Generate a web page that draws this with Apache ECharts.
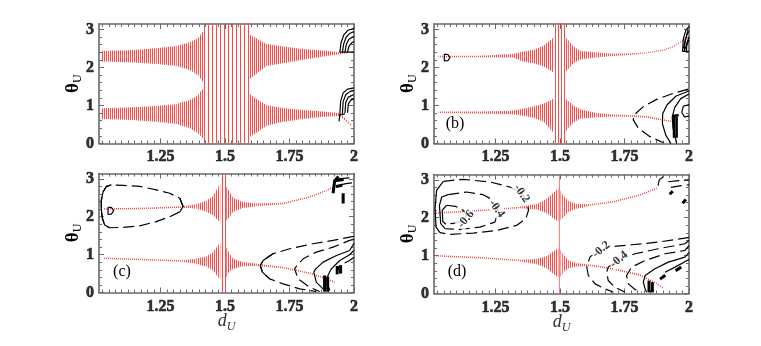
<!DOCTYPE html>
<html>
<head>
<meta charset="utf-8">
<script src="https://cdn.jsdelivr.net/npm/echarts@6/dist/echarts.min.js"></script>
<style>html,body{margin:0;background:#fff}#chart{width:761px;height:346px}</style>
</head>
<body>
<div id="chart"></div>
<script>
// tick labels
const xLabels = [1.25, 1.5, 1.75, 2];
const yLabels = [0, 1, 2, 3];
const PI = 3.1416;

// red bands: [d_U, low, high]
// (a)
const aUpL = [[1.021,2.153,2.434],[1.144,2.127,2.46],[1.234,2.092,2.504],[1.312,2.035,2.566],[1.363,1.934,2.66],[1.396,1.803,2.77],[1.409,1.671,2.90],[1.418,1.60,2.95]];
const aMid = [[1.418,0,PI],[1.596,0,PI]];
const aUpR = [[1.596,1.70,2.86],[1.609,1.76,2.81],[1.660,2.035,2.62],[1.725,2.11,2.55],[1.803,2.20,2.487],[1.880,2.285,2.443],[1.945,2.346,2.40],[1.977,2.37,2.39]];
const aLoL = [[1.021,0.645,0.925],[1.144,0.618,0.952],[1.234,0.574,0.987],[1.312,0.513,1.039],[1.363,0.399,1.145],[1.396,0.268,1.276],[1.409,0.18,1.408],[1.418,0.12,1.45]];
const aLoR = [[1.596,0.18,1.30],[1.609,0.224,1.232],[1.660,0.46,1.013],[1.725,0.574,0.925],[1.803,0.645,0.882],[1.880,0.706,0.838],[1.945,0.72,0.794],[1.99,0.46,0.50]];
// (b)
const bUpL = [[1.029,2.265,2.305],[1.190,2.27,2.31],[1.319,2.26,2.35],[1.358,2.15,2.42],[1.397,2.11,2.46],[1.436,2.03,2.57],[1.468,1.90,2.75],[1.477,1.85,2.80]];
const bMid = [[1.477,0,PI],[1.521,0,PI]];
const bUpR = [[1.521,1.88,2.78],[1.532,1.95,2.72],[1.552,2.11,2.55],[1.578,2.20,2.44],[1.642,2.27,2.39],[1.707,2.30,2.36],[1.784,2.33,2.37],[1.836,2.37,2.40],[1.901,2.44,2.47],[1.939,2.53,2.56],[1.984,2.73,2.76]];
const bLoL = [[1.029,0.80,0.84],[1.190,0.79,0.84],[1.319,0.77,0.86],[1.358,0.73,0.92],[1.397,0.68,0.97],[1.436,0.58,1.05],[1.468,0.33,1.15],[1.477,0.28,1.20]];
const bLoR = [[1.521,0.30,1.18],[1.532,0.40,1.12],[1.552,0.55,1.00],[1.578,0.65,0.90],[1.642,0.69,0.80],[1.707,0.71,0.76],[1.784,0.705,0.745],[1.836,0.68,0.72],[1.901,0.60,0.64],[1.939,0.55,0.59]];
// (c)
const cUpL = [[1.028,2.185,2.225],[1.208,2.205,2.245],[1.338,2.24,2.28],[1.389,2.22,2.33],[1.428,2.13,2.42],[1.454,2.04,2.55],[1.473,1.90,2.78],[1.482,1.85,2.85]];
const cMid = [[1.482,0,PI],[1.505,0,PI]];
const cUpR = [[1.505,1.90,2.80],[1.516,1.98,2.68],[1.531,2.13,2.50],[1.570,2.23,2.39],[1.622,2.28,2.35],[1.725,2.33,2.37],[1.828,2.50,2.54],[1.893,2.67,2.71],[1.925,2.78,2.82]];
const cLoL = [[1.028,0.885,0.925],[1.208,0.845,0.885],[1.338,0.81,0.85],[1.389,0.76,0.89],[1.428,0.68,0.96],[1.454,0.58,1.06],[1.473,0.40,1.25],[1.482,0.35,1.30]];
const cLoR = [[1.505,0.40,1.20],[1.516,0.55,1.05],[1.531,0.62,0.90],[1.570,0.69,0.80],[1.622,0.70,0.76],[1.725,0.64,0.68],[1.828,0.49,0.53],[1.893,0.34,0.38],[1.925,0.26,0.30]];
// (d)
const dUpL = [[1.016,2.10,2.14],[1.190,2.17,2.21],[1.345,2.25,2.29],[1.410,2.22,2.36],[1.449,2.12,2.50],[1.481,1.95,2.70],[1.494,1.90,2.78]];
const dMid = [[1.496,0,PI],[1.4995,0,PI]];
const dUpR = [[1.502,1.95,2.72],[1.511,2.00,2.60],[1.532,2.15,2.45],[1.565,2.24,2.36],[1.616,2.315,2.355],[1.707,2.40,2.44],[1.810,2.58,2.62],[1.875,2.76,2.80]];
const dLoL = [[1.016,0.975,1.015],[1.190,0.925,0.965],[1.345,0.85,0.89],[1.410,0.77,0.91],[1.449,0.66,0.99],[1.481,0.48,1.15],[1.494,0.42,1.20]];
const dLoR = [[1.502,0.45,1.15],[1.511,0.55,1.05],[1.532,0.66,0.88],[1.565,0.71,0.80],[1.616,0.725,0.765],[1.707,0.63,0.67],[1.810,0.465,0.505],[1.875,0.245,0.285],[1.901,0.12,0.16]];

// black contours: [d_U, theta_U]
const aSolid = [
  [[1.945,2.40],[1.950,2.65],[1.960,2.85],[1.975,2.97],[2.0,3.03]],
  [[1.955,2.40],[1.960,2.62],[1.970,2.80],[1.985,2.90],[2.0,2.94]],
  [[1.965,2.40],[1.970,2.60],[1.980,2.74],[2.0,2.82]],
  [[1.975,2.40],[1.980,2.55],[1.990,2.64],[2.0,2.68]],
  [[1.945,2.40],[2.0,2.40]],
  [[1.945,0.75],[1.948,1.10],[1.958,1.33],[1.975,1.43],[2.0,1.46]],
  [[1.955,0.78],[1.958,1.10],[1.968,1.28],[1.985,1.37],[2.0,1.39]],
  [[1.965,0.80],[1.968,1.08],[1.978,1.22],[2.0,1.29]],
  [[1.975,0.81],[1.978,1.04],[1.988,1.14],[2.0,1.18]],
  [[1.942,0.58],[1.945,0.75],[1.965,0.78]]
];
const bSolid = [
  [[1.052,2.35],[1.066,2.34],[1.074,2.26],[1.066,2.18],[1.052,2.17],[1.052,2.35]],
  [[1.975,2.42],[1.978,2.75],[1.988,2.98],[2.0,3.08]],
  [[1.982,2.42],[1.985,2.70],[1.993,2.88],[2.0,2.95]],
  [[1.990,2.42],[1.992,2.65],[2.0,2.80]],
  [[1.975,2.42],[2.0,2.42]],
  [[1.978,2.50],[1.996,2.98]],
  [[1.982,2.45],[2.0,2.72]],
  [[2.0,1.38],[1.95,1.25],[1.915,1.02],[1.898,0.78],[1.897,0.52],[1.91,0.22],[1.93,0.0]],
  [[2.0,1.30],[1.968,1.18],[1.945,0.95],[1.935,0.70],[1.938,0.40],[1.948,0.12],[1.952,0.0]],
  [[2.0,1.02],[1.978,0.98],[1.972,0.82],[1.982,0.70],[2.0,0.72]]
];
const bDashed = [
  [[1.997,1.43],[1.939,1.32],[1.875,1.16],[1.823,0.97],[1.787,0.75],[1.784,0.62],[1.804,0.40],[1.849,0.18],[1.901,0.02]]
];
const bBlobs = [
  [[1.942,0.15],[1.942,0.72]],
  [[1.952,0.15],[1.952,0.70]],
  [[1.935,0.72],[1.960,0.74]]
];
const cDashed = [
  [[1.338,2.27],[1.325,2.49],[1.286,2.62],[1.234,2.71],[1.170,2.80],[1.105,2.83],[1.060,2.84],[1.041,2.80],[1.028,2.66],[1.021,2.44],[1.021,2.18],[1.025,1.96],[1.034,1.78],[1.053,1.71],[1.105,1.72],[1.170,1.76],[1.234,1.87],[1.286,2.0],[1.325,2.13],[1.338,2.27]],
  [[2.0,1.48],[1.983,1.46],[1.919,1.375],[1.841,1.287],[1.751,1.154],[1.686,1.022],[1.648,0.846],[1.637,0.713],[1.645,0.537],[1.673,0.361],[1.725,0.228],[1.790,0.096],[1.854,0.026]],
  [[2.0,1.40],[1.983,1.375],[1.919,1.198],[1.854,1.066],[1.803,0.89],[1.779,0.713],[1.770,0.625],[1.783,0.361],[1.828,0.14],[1.867,0.026]],
  [[2.0,0.93],[1.983,0.846],[1.945,0.713],[1.932,0.537]],
  [[1.94,3.0],[1.97,3.02],[2.0,3.03]],
  [[1.95,2.85],[1.975,2.88],[2.0,2.90]]
];
const cSolid = [
  [[1.060,2.84],[1.041,2.80],[1.028,2.66],[1.021,2.44],[1.021,2.18],[1.025,1.96],[1.034,1.78],[1.053,1.71]],
  [[1.325,2.49],[1.338,2.27],[1.325,2.13]],
  [[1.047,2.25],[1.060,2.245],[1.069,2.16],[1.060,2.07],[1.047,2.065],[1.047,2.25]],
  [[1.686,1.022],[1.648,0.846],[1.637,0.713],[1.645,0.537],[1.673,0.361]],
  [[2.0,1.30],[1.983,1.11],[1.932,0.978],[1.880,0.802],[1.852,0.625],[1.844,0.537],[1.854,0.272],[1.880,0.096]],
  [[2.0,1.12],[1.983,0.996],[1.945,0.846],[1.912,0.625],[1.899,0.449],[1.895,0.272],[1.906,0.052]]
];
const cBlobs = [
  [[1.919,2.62],[1.925,2.95],[1.94,3.06]],
  [[1.925,2.95],[1.96,2.98]],
  [[1.93,2.80],[1.955,2.83]],
  [[1.958,2.35],[1.958,2.62]],
  [[1.886,0.02],[1.886,0.45]],
  [[1.898,0.02],[1.898,0.42]],
  [[1.935,0.48],[1.935,0.70]],
  [[1.948,0.50],[1.948,0.72]]
];
const dDashed = [
  [[1.048,2.962],[1.126,3.015],[1.229,2.944],[1.306,2.812],[1.350,2.66],[1.373,2.415],[1.378,2.195],[1.368,1.975],[1.332,1.798],[1.255,1.666],[1.164,1.596],[1.074,1.561],[1.035,1.605]],
  [[1.067,2.609],[1.138,2.68],[1.203,2.609],[1.235,2.486],[1.261,2.168],[1.248,1.886],[1.190,1.754],[1.113,1.692],[1.055,1.71]],
  [[1.061,2.33],[1.095,2.30],[1.125,2.20],[1.138,2.07],[1.128,1.95],[1.095,1.86],[1.058,1.83]],
  [[2.0,1.48],[1.984,1.463],[1.881,1.357],[1.778,1.287],[1.687,1.225],[1.636,1.07],[1.616,0.96],[1.604,0.696],[1.610,0.475],[1.636,0.255],[1.675,0.122],[1.707,0.034]],
  [[2.0,1.40],[1.984,1.313],[1.881,1.181],[1.791,1.049],[1.729,0.90],[1.687,0.696],[1.681,0.563],[1.687,0.343],[1.713,0.167],[1.752,0.034]],
  [[2.0,1.26],[1.984,1.137],[1.907,1.049],[1.830,0.872],[1.778,0.696],[1.758,0.475],[1.765,0.255],[1.791,0.105],[1.817,0.034]],
  [[1.92,2.95],[1.96,2.98],[2.0,3.0]],
  [[1.93,2.80],[1.97,2.85],[2.0,2.87]]
];
const dSolid = [
  [[1.035,1.605],[1.020,1.754],[1.016,2.239],[1.022,2.724],[1.048,2.962]],
  [[1.055,1.71],[1.038,1.842],[1.033,2.327],[1.042,2.548],[1.067,2.609]],
  [[1.058,1.83],[1.046,1.90],[1.044,2.20],[1.061,2.33]],
  [[2.0,1.08],[1.984,0.96],[1.920,0.828],[1.868,0.652],[1.830,0.475],[1.823,0.299],[1.830,0.122],[1.836,0.034]],
  [[2.0,0.90],[1.946,0.696],[1.907,0.563]],
  [[1.88,2.85],[1.885,3.0],[1.90,3.08]]
];
const dBlobs = [
  [[1.845,0.03],[1.845,0.34]],
  [[1.858,0.03],[1.858,0.30]],
  [[1.888,0.38],[1.908,0.48]],
  [[1.948,0.60],[1.970,0.70]],
  [[1.925,2.62],[1.937,2.70]],
  [[1.975,2.38],[1.988,2.48]]
];
// contour value labels: [d_U, theta_U, text]
const dLabels = [[1.352,2.64,'-0.2'],[1.255,2.24,'-0.4'],[1.136,1.96,'-0.6'],[1.660,1.16,'-0.2'],[1.729,0.90,'-0.4']];
const dLabelRot = [-55, -55, 50, 40, 40];

// layout / style
const grids = [
  {left: 99, top: 24, width: 255, height: 119.5},
  {left: 434, top: 24, width: 255, height: 119.5},
  {left: 99, top: 173.5, width: 255, height: 119},
  {left: 434, top: 174.5, width: 255, height: 119}
];
const XMIN = 1.012, XMAX = 2;
const FRAME = '#6a6a6a';
const FONT = 'Liberation Serif';
const xMinor = [], yMinor = [];
for (let k = 41; k <= 79; k++) if (k % 10 !== 0) xMinor.push(+(k * 0.025).toFixed(3));
for (let k = 1; k <= 15; k++) if (k % 5 !== 0) yMinor.push(+(k * 0.2).toFixed(1));

const tickFont = {fontFamily: FONT, fontWeight: 'bold', fontSize: 16, color: '#000',
  textBorderColor: '#000', textBorderWidth: 0.6};

function xAxes(g) {
  const bottomRow = g >= 2;
  const base = {type: 'value', gridIndex: g, min: XMIN, max: XMAX, splitLine: {show: false}, axisLabel: {show: false}};
  const line = {show: true, onZero: false, lineStyle: {color: FRAME, width: 1.6}};
  const nameOpt = bottomRow ? {
    name: '{d|d}{s|U}', nameLocation: 'middle', nameGap: 18,
    nameTextStyle: {rich: {
      d: {fontFamily: FONT, fontStyle: 'italic', fontSize: 18, color: '#333', lineHeight: 22},
      s: {fontFamily: FONT, fontStyle: 'italic', fontSize: 12, color: '#333', lineHeight: 22, verticalAlign: 'bottom'}
    }}
  } : {};
  return [
    Object.assign({}, base, nameOpt, {position: 'bottom', axisLine: line,
      axisTick: {inside: true, length: 5, customValues: xLabels, lineStyle: {color: FRAME}}}),
    Object.assign({}, base, {position: 'bottom', axisLine: {show: false, onZero: false},
      axisTick: {inside: true, length: 3, customValues: xMinor, lineStyle: {color: FRAME}}}),
    Object.assign({}, base, {position: 'top', axisLine: line,
      axisTick: {inside: true, length: 5, customValues: xLabels, lineStyle: {color: FRAME}}}),
    Object.assign({}, base, {position: 'top', axisLine: {show: false, onZero: false},
      axisTick: {inside: true, length: 3, customValues: xMinor, lineStyle: {color: FRAME}}})
  ];
}

function yAxes(g) {
  const base = {type: 'value', gridIndex: g, min: 0, max: Math.PI, splitLine: {show: false}, axisLabel: {show: false}};
  const line = {show: true, onZero: false, lineStyle: {color: FRAME, width: 1.6}};
  return [
    Object.assign({}, base, {position: 'left', axisLine: line,
      name: '{t|θ}{s|U}', nameLocation: 'middle', nameGap: 15, nameRotate: 90,
      nameTextStyle: {rich: {
        t: {fontFamily: FONT, fontSize: 19, fontWeight: 'bold', color: '#000', lineHeight: 22},
        s: {fontFamily: FONT, fontSize: 12, color: '#000', lineHeight: 22, verticalAlign: 'bottom'}
      }},
      axisTick: {inside: true, length: 5, customValues: yLabels, lineStyle: {color: FRAME}}}),
    Object.assign({}, base, {position: 'left', axisLine: {show: false, onZero: false},
      axisTick: {inside: true, length: 3, customValues: yMinor, lineStyle: {color: FRAME}}}),
    Object.assign({}, base, {position: 'right', axisLine: line,
      axisTick: {inside: true, length: 5, customValues: yLabels, lineStyle: {color: FRAME}}}),
    Object.assign({}, base, {position: 'right', axisLine: {show: false, onZero: false},
      axisTick: {inside: true, length: 3, customValues: yMinor, lineStyle: {color: FRAME}}})
  ];
}

// tick labels drawn as text anchored through the axes' scales
function tickLabels(g) {
  const bottomRow = g >= 2;
  return [{
    type: 'scatter', xAxisIndex: 4 * g, yAxisIndex: 4 * g, symbolSize: 0, silent: true, animation: false, clip: false,
    data: xLabels.map(v => [v, 0]),
    label: Object.assign({show: true, position: 'bottom', distance: bottomRow ? 6 : 5, formatter: p => String(p.value[0])}, tickFont)
  }, {
    type: 'scatter', xAxisIndex: 4 * g, yAxisIndex: 4 * g, symbolSize: 0, silent: true, animation: false, clip: false,
    data: yLabels.map(v => [XMIN, v]),
    label: Object.assign({show: true, position: 'left', distance: 5, formatter: p => String(p.value[1])}, tickFont)
  }];
}

// vertical stripe texture for the oscillating red trajectories
const stripeCache = {};
function stripes(period) {
  if (!stripeCache[period]) {
    const c = document.createElement('canvas');
    c.width = period; c.height = 1;
    const ctx = c.getContext('2d');
    ctx.fillStyle = '#ff4a4a';
    ctx.fillRect(0, 0, 1, 1);
    stripeCache[period] = c;
  }
  return {image: stripeCache[period], repeat: 'repeat'};
}

function band(g, arr, period) {
  const fill = period > 1 ? stripes(period) : 'rgba(255,70,70,0.85)';
  return {
    type: 'custom', xAxisIndex: 4 * g, yAxisIndex: 4 * g, silent: true, animation: false, clip: true,
    dimensions: ['d', 'lo', 'hi'], encode: {x: 0, y: [1, 2]},
    data: arr,
    renderItem: function (params, api) {
      const i = params.dataIndex;
      if (i >= arr.length - 1) return null;
      const a = arr[i], b = arr[i + 1];
      return {
        type: 'polygon',
        shape: {points: [api.coord([a[0], a[1]]), api.coord([a[0], a[2]]), api.coord([b[0], b[2]]), api.coord([b[0], b[1]])]},
        style: {fill: fill, stroke: null}
      };
    }
  };
}

function contour(g, arr, dashed, width) {
  return {
    type: 'line', xAxisIndex: 4 * g, yAxisIndex: 4 * g, data: arr, symbol: 'none', showSymbol: false,
    silent: true, animation: false, z: 3,
    lineStyle: {color: '#000', width: width || 1.2, type: dashed ? [11, 5] : 'solid'}
  };
}

const series = [];
[[aUpL, 2], [aMid, 4], [aUpR, 2], [aLoL, 2], [aLoR, 2]].forEach(b => series.push(band(0, b[0], b[1])));
[[bUpL, 2], [bMid, 3], [bUpR, 2], [bLoL, 2], [bLoR, 2]].forEach(b => series.push(band(1, b[0], b[1])));
[[cUpL, 2], [cMid, 3], [cUpR, 2], [cLoL, 2], [cLoR, 2]].forEach(b => series.push(band(2, b[0], b[1])));
[[dUpL, 2], [dMid, 1], [dUpR, 2], [dLoL, 2], [dLoR, 2]].forEach(b => series.push(band(3, b[0], b[1])));

aSolid.forEach(c => series.push(contour(0, c, false)));
bSolid.forEach(c => series.push(contour(1, c, false)));
bDashed.forEach(c => series.push(contour(1, c, true)));
bBlobs.forEach(c => series.push(contour(1, c, false, 2.5)));
cDashed.forEach(c => series.push(contour(2, c, true)));
cSolid.forEach(c => series.push(contour(2, c, false)));
cBlobs.forEach(c => series.push(contour(2, c, false, 3)));
dDashed.forEach(c => series.push(contour(3, c, true)));
dSolid.forEach(c => series.push(contour(3, c, false)));
dBlobs.forEach(c => series.push(contour(3, c, false, 3)));

series.push({
  type: 'scatter', xAxisIndex: 12, yAxisIndex: 12, symbolSize: 0, silent: true, animation: false, z: 5,
  data: dLabels.map((p, i) => ({value: [p[0], p[1]], name: p[2], label: {rotate: dLabelRot[i]}})),
  label: {show: true, position: 'inside', formatter: '{b}', fontFamily: FONT, fontWeight: 'bold',
    fontSize: 12, color: '#000', backgroundColor: '#fff', padding: [0, 1]}
});

for (let g = 0; g < 4; g++) tickLabels(g).forEach(s => series.push(s));

let xAxis = [], yAxis = [];
for (let g = 0; g < 4; g++) { xAxis = xAxis.concat(xAxes(g)); yAxis = yAxis.concat(yAxes(g)); }

function panelTag(text, x, y) {
  return {type: 'text', x: x, y: y, silent: true,
    style: {text: text, fontFamily: FONT, fontSize: 16, fill: '#000',
      textAlign: 'center', textVerticalAlign: 'middle', align: 'center', verticalAlign: 'middle'}};
}

const chart = echarts.init(document.getElementById('chart'));
chart.setOption({
  animation: false,
  grid: grids,
  xAxis: xAxis,
  yAxis: yAxis,
  series: series,
  graphic: [panelTag('(b)', 455, 124), panelTag('(c)', 122, 272), panelTag('(d)', 457, 272)]
});
</script>
</body>
</html>
